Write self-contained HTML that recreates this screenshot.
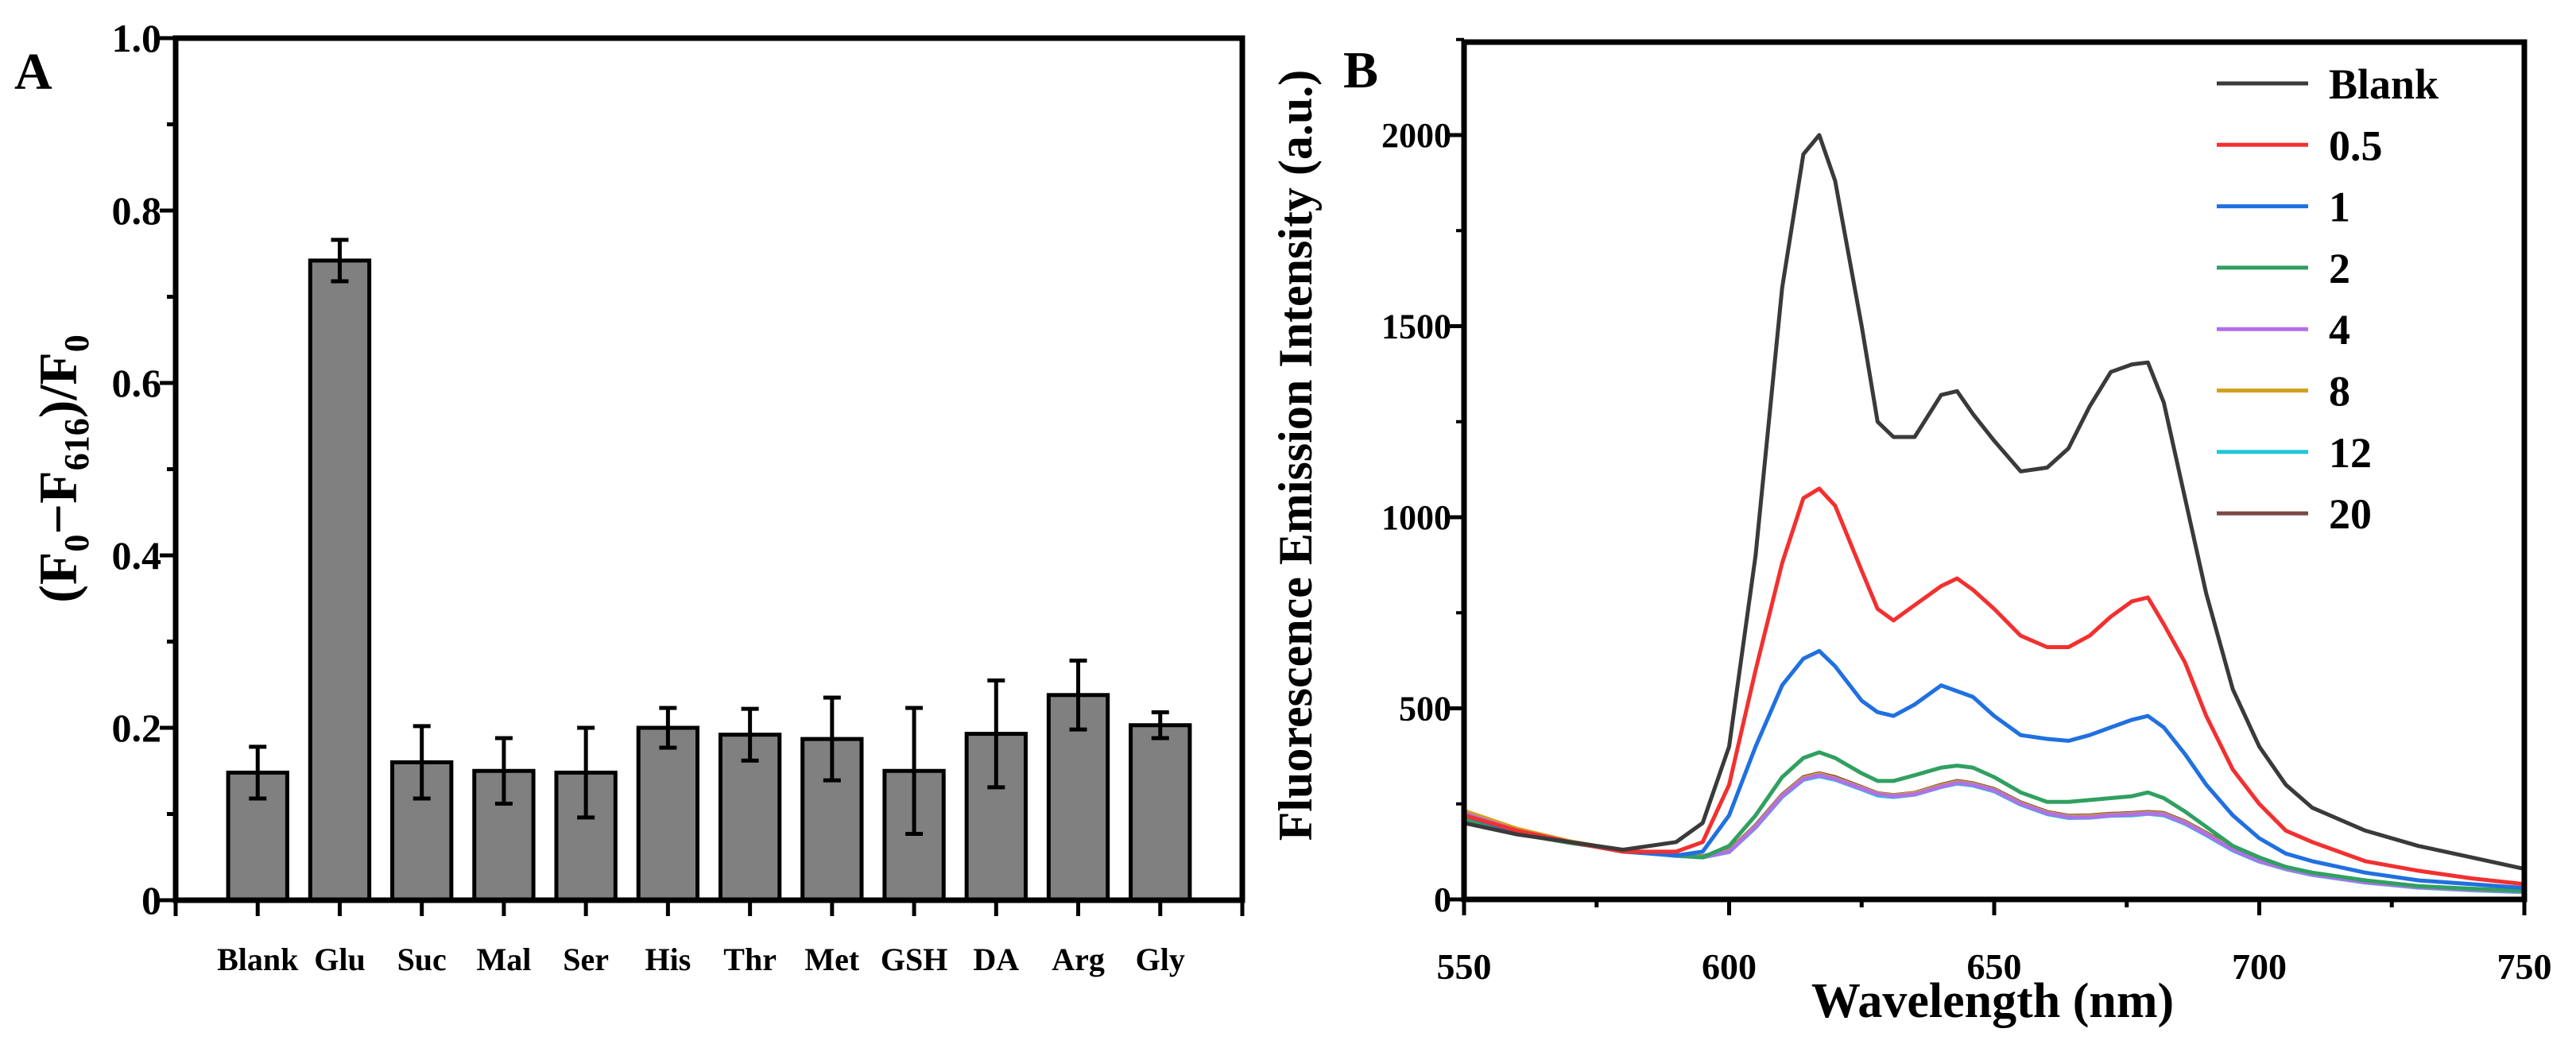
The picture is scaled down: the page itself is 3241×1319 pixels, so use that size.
<!DOCTYPE html>
<html><head><meta charset="utf-8">
<style>
html,body{margin:0;padding:0;background:#fff;}
svg{display:block;font-family:"Liberation Serif",serif;font-weight:bold;}
</style></head>
<body>
<svg id="fig" width="3241" height="1319" viewBox="0 0 3241 1319" xmlns="http://www.w3.org/2000/svg">
<rect width="3241" height="1319" fill="#fff"/>
<g id="pa"></g>
<g id="pb"></g>
</svg>
<script>
// ---- Panel A data ----
const catsA = ["Blank","Glu","Suc","Mal","Ser","His","Thr","Met","GSH","DA","Arg","Gly"];
const valsA = [0.148,0.742,0.160,0.150,0.148,0.200,0.192,0.187,0.150,0.193,0.238,0.203];
const errsA = [0.030,0.024,0.042,0.038,0.052,0.023,0.030,0.048,0.073,0.062,0.040,0.015];
const yTicksA = [0,0.2,0.4,0.6,0.8,1.0];
const yTickLabelsA = ["0","0.2","0.4","0.6","0.8","1.0"];
// ---- Panel B data ----
const wl = [550,560,570,580,590,595,600,605,610,614,617,620,625,628,631,635,640,643,646,650,655,660,664,668,672,676,679,682,686,690,695,700,705,710,720,730,740,750];
const sBlank = [200,170,150,130,150,200,400,900,1600,1950,2000,1880,1500,1250,1210,1210,1320,1330,1270,1200,1120,1130,1180,1290,1380,1400,1405,1300,1050,800,550,400,300,240,180,140,110,80];
const s05 = [220,180,150,125,125,150,300,600,880,1050,1075,1030,860,760,730,770,820,840,810,760,690,660,660,690,740,780,790,720,620,480,340,250,180,150,100,75,55,40];
const s1 = [220,175,150,125,115,125,220,400,560,630,650,610,520,490,480,510,560,545,530,480,430,420,415,430,450,470,480,450,380,300,220,160,120,100,70,50,40,30];
const s2 = [210,172,148,128,115,110,140,220,320,370,385,370,330,310,310,325,345,350,345,320,280,255,255,260,265,270,280,265,230,190,140,110,85,70,50,35,28,22];
const s4 = [225,180,150,128,115,110,125,190,270,315,325,315,290,275,270,275,295,305,300,285,250,225,215,215,220,222,225,222,200,170,130,100,80,65,45,32,25,20];
const s8 = [232,185,152,128,116,112,127,192,272,318,328,317,292,277,272,278,298,308,302,287,252,227,217,218,222,224,227,224,202,172,132,101,81,66,46,33,26,21];
const s12 = [218,178,150,127,114,110,124,188,268,313,322,313,288,272,268,274,294,303,298,283,248,223,213,214,219,220,224,220,198,168,128,99,79,64,44,31,24,19];
const s20 = [205,172,148,128,117,113,128,194,274,320,330,320,294,278,273,279,300,310,304,289,254,229,219,220,224,226,229,226,204,174,134,103,82,67,47,34,27,22];
const seriesNames = ["Blank","0.5","1","2","4","8","12","20"];
const xTicksB = [550,600,650,700,750];
const yTicksB = [0,500,1000,1500,2000];

const NS="http://www.w3.org/2000/svg";
function mk(parent,tag,attrs,text){const e=document.createElementNS(NS,tag);for(const k in attrs)e.setAttribute(k,attrs[k]);if(text!==undefined)e.textContent=text;parent.appendChild(e);return e;}

// ---- Panel A ----
const pa=document.getElementById('pa');
const AL=221,AR=1563,AT=48,AB=1133;
const xA=i=>AL+(i+1)*(AR-AL)/13;
const yA=v=>AB-(v/1.0)*(AB-AT);
const slot=(AR-AL)/13, bw=slot*0.72;
catsA.forEach((c,i)=>{
  const b=mk(pa,'rect',{x:xA(i)-bw/2,y:yA(valsA[i]),width:bw,height:AB-yA(valsA[i]),fill:'#808080',stroke:'#000','stroke-width':5});
  
  
  const top=yA(valsA[i]+errsA[i]), bot=yA(valsA[i]-errsA[i]);
  const eb=mk(pa,'path',{d:`M${xA(i)} ${top}V${bot}M${xA(i)-11} ${top}H${xA(i)+11}M${xA(i)-11} ${bot}H${xA(i)+11}`,stroke:'#000','stroke-width':5,fill:'none'});
  
  
  const tk=mk(pa,'line',{x1:xA(i),x2:xA(i),y1:AB,y2:AB+20,stroke:'#000','stroke-width':5});
  
  
  const t=mk(pa,'text',{x:xA(i),y:AB+88,'font-size':40,'text-anchor':'middle'},c);
  
  
});
[AL,AR].forEach(x=>{const tk=mk(pa,'line',{x1:x,x2:x,y1:AB,y2:AB+20,stroke:'#000','stroke-width':5});
  
  });
yTicksA.forEach((v,i)=>{
  const tk=mk(pa,'line',{x1:AL-20,x2:AL,y1:yA(v),y2:yA(v),stroke:'#000','stroke-width':5});
  
  
  if(i<yTicksA.length-1){const m=mk(pa,'line',{x1:AL-11,x2:AL,y1:yA(v+0.1),y2:yA(v+0.1),stroke:'#000','stroke-width':5});
  
  }
  const t=mk(pa,'text',{x:203,y:yA(v)+17,'font-size':50,'text-anchor':'end'},yTickLabelsA[i]);
  
  
});
const fa=mk(pa,'rect',{x:AL,y:AT,width:AR-AL,height:AB-AT,fill:'none',stroke:'#000','stroke-width':7});


const ya=mk(pa,'text',{transform:'translate(96,590) rotate(-90)','font-size':68,'text-anchor':'middle'});


ya.innerHTML='(F<tspan font-size="44" dy="15">0</tspan><tspan dy="-15">−F</tspan><tspan font-size="44" dy="15">616</tspan><tspan dy="-15">)/F</tspan><tspan font-size="44" dy="15">0</tspan>';
const la=mk(pa,'text',{x:18,y:112,'font-size':66},'A');



// ---- Panel B ----
const pb=document.getElementById('pb');
const BL=1842,BR=3176,BT=53,BB=1132;
const xB=w=>BL+(w-550)/200*(BR-BL);
const yB=v=>BB-v/2000*(BB-170);
const colors=['#3a3a3a','#f23030','#2070e0','#30a060','#b070e8','#d4a020','#20c8d8','#7a4848'];
const allS=[sBlank,s05,s1,s2,s4,s8,s12,s20];
for(let k=allS.length-1;k>=0;k--){
  const d=allS[k].map((v,i)=>(i?'L':'M')+xB(wl[i]).toFixed(1)+' '+yB(v).toFixed(1)).join('');
  const p=mk(pb,'path',{d:d,fill:'none',stroke:colors[k],'stroke-width':5,'stroke-linejoin':'round'});
  
  
}
xTicksB.forEach(w=>{
  const tk=mk(pb,'line',{x1:xB(w),x2:xB(w),y1:BB,y2:BB+20,stroke:'#000','stroke-width':5});
  
  
  if(w<750){const m=mk(pb,'line',{x1:xB(w+25),x2:xB(w+25),y1:BB,y2:BB+10,stroke:'#000','stroke-width':5});
  
  }
  const t=mk(pb,'text',{x:xB(w),y:BB+100,'font-size':46,'text-anchor':'middle'},String(w));
  
  
});
yTicksB.forEach(v=>{
  const tk=mk(pb,'line',{x1:BL-18,x2:BL,y1:yB(v),y2:yB(v),stroke:'#000','stroke-width':5});
  
  
  const m=mk(pb,'line',{x1:BL-10,x2:BL,y1:yB(v+250),y2:yB(v+250),stroke:'#000','stroke-width':4});
  
  
  const t=mk(pb,'text',{x:1826,y:yB(v)+15,'font-size':44,'text-anchor':'end'},String(v));
  
  
});
const fb=mk(pb,'rect',{x:BL,y:BT,width:BR-BL,height:BB-BT,fill:'none',stroke:'#000','stroke-width':7});


const yb=mk(pb,'text',{transform:'translate(1650,573) rotate(-90)','font-size':60,'text-anchor':'middle'},'Fluorescence Emission Intensity (a.u.)');


const xbt=mk(pb,'text',{x:2507,y:1280,'font-size':62,'text-anchor':'middle'},'Wavelength (nm)');


const lb=mk(pb,'text',{x:1690,y:110,'font-size':66},'B');


seriesNames.forEach((n,k)=>{
  const y=105+k*77.3;
  const g=mk(pb,'g',{});
  
  
  mk(g,'line',{x1:2789,x2:2904,y1:y,y2:y,stroke:colors[k],'stroke-width':5});
  mk(g,'text',{x:2930,y:y+19,'font-size':54},n);
});
</script>
</body></html>
